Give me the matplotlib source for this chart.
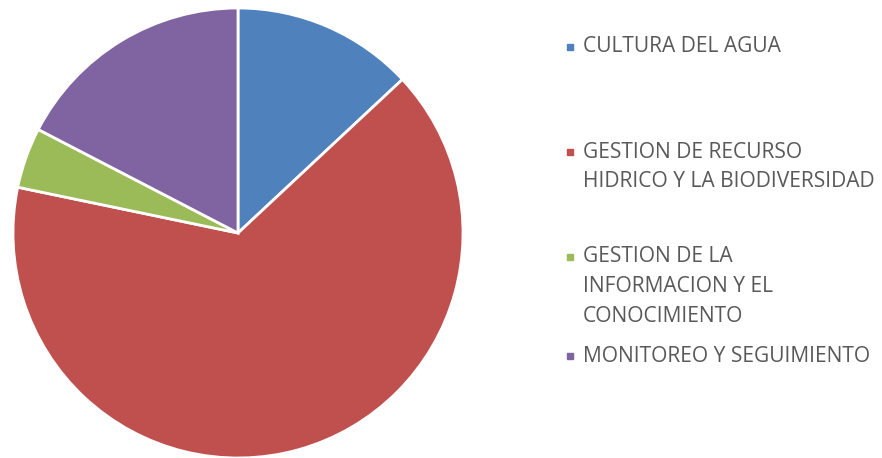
import matplotlib
matplotlib.use('Agg')
import matplotlib.pyplot as plt
from matplotlib.lines import Line2D

# Project counts per line of work
categories = [
    ['CULTURA DEL AGUA'],
    ['GESTION DE RECURSO', 'HIDRICO Y LA BIODIVERSIDAD'],
    ['GESTION DE LA', 'INFORMACION Y EL', 'CONOCIMIENTO'],
    ['MONITOREO Y SEGUIMIENTO'],
]
values = [3, 15, 1, 4]
colors = ['#4F81BD', '#C0504D', '#9BBB59', '#8064A2']

W, H = 882, 458
fig = plt.figure(figsize=(W / 100, H / 100), dpi=100)

# Pie occupies a square on the left: centre (238, 233) px, radius 225 px
cx, cy, r = 238, 233, 225
ax = fig.add_axes([(cx - r) / W, (H - cy - r) / H, 2 * r / W, 2 * r / H])
ax.pie(values, colors=colors, startangle=90, counterclock=False,
       wedgeprops=dict(edgecolor='white', linewidth=2))
ax.set_xlim(-1, 1)
ax.set_ylim(-1, 1)
ax.set_aspect('equal')
ax.axis('off')

# Legend drawn by hand: first-line y (px from top) for each entry
entry_y = [47, 152, 257, 356]
line_gap = 29.5
marker_x = 570
text_x = 583
text_color = '#595959'

for lines, color, y0 in zip(categories, colors, entry_y):
    fig.add_artist(Line2D([marker_x / W], [1 - y0 / H], marker='s', markersize=4.5,
                          color=color, linestyle='none', transform=fig.transFigure))
    for i, line in enumerate(lines):
        y = y0 + i * line_gap
        fig.text(text_x / W, 1 - y / H, line, fontsize=15.1, family='Open Sans',
                 color=text_color, va='center', ha='left')

fig.savefig('out.png', dpi=100, facecolor='white')
